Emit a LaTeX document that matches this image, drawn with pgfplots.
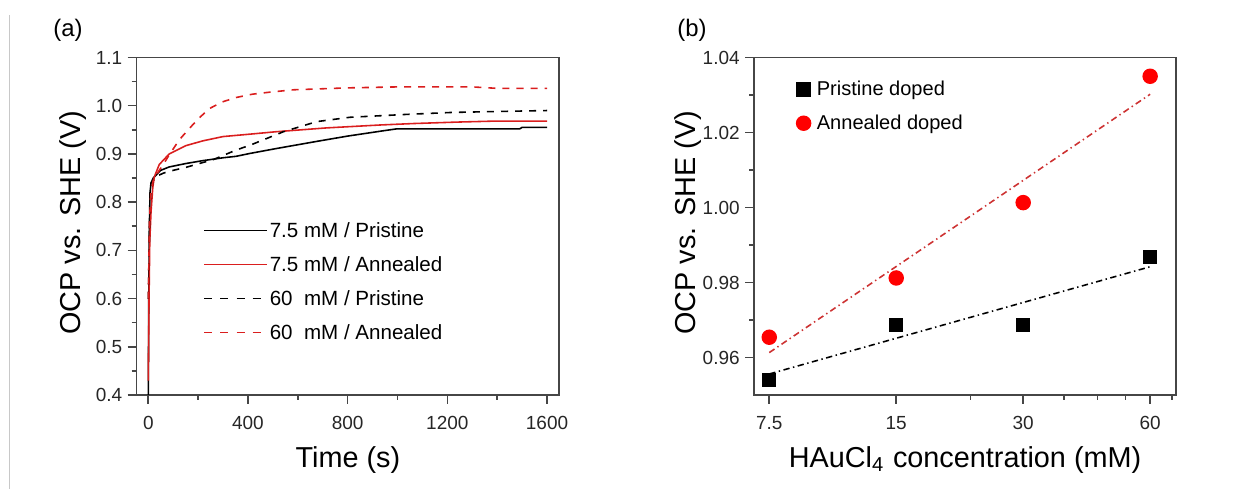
\documentclass[border=0pt]{standalone}
\usepackage{fontspec}
\setmainfont{Liberation Sans}
\usepackage{pgfplots}
\pgfplotsset{compat=1.18}
\definecolor{redl}{RGB}{218,30,30}
\definecolor{redm}{RGB}{255,0,0}
\definecolor{redfit}{RGB}{205,50,50}
\definecolor{axisgray}{RGB}{70,70,70}
\definecolor{framegray}{RGB}{200,200,200}

\pgfplotstableread{
t V
0 0.40
2 0.60
4 0.74
7 0.82
11 0.840
20 0.850
31 0.856
50 0.866
84 0.873
150 0.880
218 0.886
300 0.892
352 0.895
408 0.901
512 0.911
676 0.926
800 0.937
943 0.948
997 0.952
1200 0.952
1490 0.952
1500 0.955
1600 0.955
}\prist

\pgfplotstableread{
t V
0 0.43
3 0.60
6 0.72
11 0.78
18 0.83
24 0.852
44 0.878
84 0.900
150 0.917
218 0.927
300 0.936
408 0.941
512 0.946
716 0.954
930 0.960
1063 0.963
1237 0.966
1384 0.968
1600 0.968
}\anneal

\pgfplotstableread{
t V
0 0.60
5 0.75
10 0.82
20 0.845
31 0.853
60 0.860
84 0.864
150 0.872
218 0.882
260 0.888
352 0.908
408 0.918
542 0.946
676 0.967
809 0.976
1037 0.982
1216 0.986
1400 0.988
1600 0.990
}\pristB

\pgfplotstableread{
t V
0 0.60
5 0.76
10 0.82
20 0.845
31 0.856
60 0.878
84 0.898
124 0.929
165 0.953
205 0.975
245 0.994
298 1.008
352 1.017
419 1.024
486 1.028
582 1.033
800 1.037
1000 1.039
1300 1.039
1400 1.036
1600 1.036
}\annealB

\pgfplotsset{
  common/.style={
    scale only axis,
    axis line style={axisgray, line width=0.45pt},
    tick style={axisgray, line width=0.45pt},
    tick align=outside,
    tick pos=left,
    major tick length=0.09cm,
    minor tick length=0.05cm,
    /pgf/number format/assume math mode=true,
    /pgf/number format/1000 sep={},
    tick label style={font=\fontsize{5.4}{6}\selectfont, text=black!85},
    yticklabel style={xshift=0.07cm},
    label style={font=\fontsize{8.2}{9}\selectfont},
  }
}

\begin{document}
\begin{tikzpicture}
\path[use as bounding box] (0,0) rectangle (12.41,4.89);
\draw[framegray, line width=0.3pt] (0.095,0) -- (0.095,4.74);
\node[font=\fontsize{6.8}{8}\selectfont] at (0.68,4.59) {(a)};
\node[font=\fontsize{6.8}{8}\selectfont] at (6.92,4.59) {(b)};

\begin{axis}[common,
  at={(1.367cm,0.94cm)}, anchor=south west,
  width=4.223cm, height=3.375cm,
  xmin=-46.5, xmax=1648, ymin=0.4, ymax=1.1,
  xtick={0,400,800,1200,1600}, minor x tick num=1,
  ytick={0.4,0.5,0.6,0.7,0.8,0.9,1.0,1.1}, minor y tick num=1,
  yticklabel style={/pgf/number format/.cd, fixed, fixed zerofill, precision=1},
  xlabel={Time (s)}, ylabel={OCP vs. SHE (V)},
  xlabel style={at={(axis description cs:0.5,-0.193)}, anchor=center},
  ylabel style={at={(axis description cs:-0.151,0.51)}, anchor=center},
  legend cell align=left,
  legend style={draw=none, fill=none, inner sep=0pt,
    font=\fontsize{5.85}{7}\selectfont,
    nodes={inner sep=0pt, text height=4.5pt, text depth=1.2pt},
    row sep=3.97pt, column sep=0.015cm,
    at={(axis description cs:0.1563,0.5156)}, anchor=north west},
]
\addplot[color=black, line width=0.45pt, forget plot] table[x=t,y=V] {\prist};
\addplot[color=redl, line width=0.45pt, forget plot] table[x=t,y=V] {\anneal};
\addplot[color=black, line width=0.45pt, dash pattern=on 2pt off 2pt, forget plot] table[x=t,y=V] {\pristB};
\addplot[color=redl, line width=0.45pt, dash pattern=on 2pt off 2pt, forget plot] table[x=t,y=V] {\annealB};
\addlegendimage{legend image code/.code={\draw[color=black, line width=0.45pt] (0cm,0.3pt) -- (0.633cm,0.3pt);}}
\addlegendentry{7.5 mM / Pristine}
\addlegendimage{legend image code/.code={\draw[color=redl, line width=0.45pt] (0cm,0.3pt) -- (0.633cm,0.3pt);}}
\addlegendentry{7.5 mM / Annealed}
\addlegendimage{legend image code/.code={\draw[color=black, line width=0.45pt, dash pattern=on 2.3pt off 2.3pt] (0cm,0.3pt) -- (0.633cm,0.3pt);}}
\addlegendentry{60\ \ mM / Pristine}
\addlegendimage{legend image code/.code={\draw[color=redl, line width=0.45pt, dash pattern=on 2.3pt off 2.3pt] (0cm,0.3pt) -- (0.633cm,0.3pt);}}
\addlegendentry{60\ \ mM / Annealed}
\end{axis}

\begin{axis}[common,
  at={(7.54cm,0.94cm)}, anchor=south west,
  width=4.22cm, height=3.375cm,
  xmode=log,
  xmin=6.9, xmax=69.1, ymin=0.95, ymax=1.04,
  xtick={7.5,15,30,60}, xticklabels={7.5,15,30,60},
  minor xtick={22.5,37.5,45,52.5,67.5},
  ytick={0.96,0.98,1.00,1.02,1.04}, minor ytick={0.97,0.99,1.01,1.03},
  yticklabel style={/pgf/number format/.cd, fixed, fixed zerofill, precision=2},
  xlabel={HAuCl\textsubscript{4} concentration (mM)}, ylabel={OCP vs. SHE (V)},
  xlabel style={at={(axis description cs:0.5,-0.193)}, anchor=center},
  ylabel style={at={(axis description cs:-0.156,0.51)}, anchor=center},
  legend cell align=left,
  legend style={draw=none, fill=none, inner sep=0pt,
    font=\fontsize{5.7}{7}\selectfont,
    nodes={inner sep=0pt, text height=4.5pt, text depth=1.2pt},
    row sep=3.9pt, column sep=0.055cm,
    at={(axis description cs:0.0976,0.937)}, anchor=north west},
]
\addplot[color=black, line width=0.45pt, dash pattern=on 1.8pt off 1pt on 0.4pt off 1pt, forget plot] coordinates {(7.5,0.9556) (60,0.9842)};
\addplot[color=redfit, line width=0.45pt, dash pattern=on 1.8pt off 1pt on 0.4pt off 1pt, forget plot] coordinates {(7.5,0.9613) (60,1.0302)};
\addplot[only marks, mark=square*, mark size=1.85pt, color=black, mark options={fill=black, draw=black}, forget plot] coordinates {(7.5,0.9540) (15,0.9687) (30,0.9687) (60,0.9868)};
\addplot[only marks, mark=*, mark size=2pt, color=redm, mark options={fill=redm, draw=redm}, forget plot] coordinates {(7.5,0.9654) (15,0.9812) (30,1.0013) (60,1.0350)};
\addlegendimage{legend image code/.code={\fill[black] (-1.85pt,-1.85pt) rectangle (1.85pt,1.85pt);}}
\addlegendentry{Pristine doped}
\addlegendimage{legend image code/.code={\fill[redm] (0pt,0pt) circle[radius=2pt];}}
\addlegendentry{Annealed doped}
\end{axis}
\end{tikzpicture}
\end{document}
